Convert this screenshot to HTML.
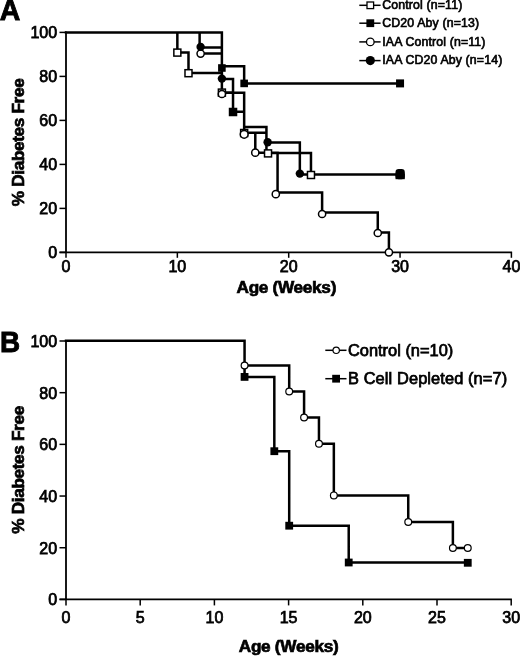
<!DOCTYPE html>
<html><head><meta charset="utf-8"><style>
html,body{margin:0;padding:0;background:#fff;}
body{width:520px;height:656px;overflow:hidden;}
svg{display:block;will-change:transform;}
svg text{font-family:"Liberation Sans", sans-serif;fill:#000;}
</style></head><body>
<svg width="520" height="656" viewBox="0 0 520 656">
<rect width="520" height="656" fill="#fff"/>
<text transform="translate(-0.3,19.9) scale(0.95,1)" font-size="30" font-weight="bold" stroke="#000" stroke-width="0.9">A</text>
<line x1="66.00" y1="31.50" x2="66.00" y2="252.40" stroke="#000" stroke-width="1.8"/>
<line x1="59.50" y1="252.40" x2="512.10" y2="252.40" stroke="#000" stroke-width="1.8"/>
<line x1="59.50" y1="252.40" x2="66.00" y2="252.40" stroke="#000" stroke-width="1.5"/>
<text x="57.10" y="258.30" font-size="16" font-weight="normal" text-anchor="end" stroke="#000" stroke-width="0.75" >0</text>
<line x1="59.50" y1="208.40" x2="66.00" y2="208.40" stroke="#000" stroke-width="1.5"/>
<text x="57.10" y="214.30" font-size="16" font-weight="normal" text-anchor="end" stroke="#000" stroke-width="0.75" >20</text>
<line x1="59.50" y1="164.40" x2="66.00" y2="164.40" stroke="#000" stroke-width="1.5"/>
<text x="57.10" y="170.30" font-size="16" font-weight="normal" text-anchor="end" stroke="#000" stroke-width="0.75" >40</text>
<line x1="59.50" y1="120.40" x2="66.00" y2="120.40" stroke="#000" stroke-width="1.5"/>
<text x="57.10" y="126.30" font-size="16" font-weight="normal" text-anchor="end" stroke="#000" stroke-width="0.75" >60</text>
<line x1="59.50" y1="76.40" x2="66.00" y2="76.40" stroke="#000" stroke-width="1.5"/>
<text x="57.10" y="82.30" font-size="16" font-weight="normal" text-anchor="end" stroke="#000" stroke-width="0.75" >80</text>
<line x1="59.50" y1="32.40" x2="66.00" y2="32.40" stroke="#000" stroke-width="1.5"/>
<text x="57.10" y="38.30" font-size="16" font-weight="normal" text-anchor="end" stroke="#000" stroke-width="0.75" >100</text>
<line x1="66.00" y1="252.40" x2="66.00" y2="257.80" stroke="#000" stroke-width="1.5"/>
<text x="66.00" y="272.20" font-size="16" font-weight="normal" text-anchor="middle" stroke="#000" stroke-width="0.75" >0</text>
<line x1="177.35" y1="252.40" x2="177.35" y2="257.80" stroke="#000" stroke-width="1.5"/>
<text x="177.35" y="272.20" font-size="16" font-weight="normal" text-anchor="middle" stroke="#000" stroke-width="0.75" >10</text>
<line x1="288.70" y1="252.40" x2="288.70" y2="257.80" stroke="#000" stroke-width="1.5"/>
<text x="288.70" y="272.20" font-size="16" font-weight="normal" text-anchor="middle" stroke="#000" stroke-width="0.75" >20</text>
<line x1="400.05" y1="252.40" x2="400.05" y2="257.80" stroke="#000" stroke-width="1.5"/>
<text x="400.05" y="272.20" font-size="16" font-weight="normal" text-anchor="middle" stroke="#000" stroke-width="0.75" >30</text>
<line x1="511.40" y1="252.40" x2="511.40" y2="257.80" stroke="#000" stroke-width="1.5"/>
<text x="511.40" y="272.20" font-size="16" font-weight="normal" text-anchor="middle" stroke="#000" stroke-width="0.75" >40</text>
<text x="286.30" y="293.00" font-size="17.2" font-weight="bold" text-anchor="middle" stroke="#000" stroke-width="0.7" letter-spacing="-0.3">Age (Weeks)</text>
<text transform="translate(23.9,142.4) rotate(-90)" x="0" y="0" font-size="17.2" font-weight="bold" text-anchor="middle" letter-spacing="-0.35" stroke="#000" stroke-width="0.7">% Diabetes Free</text>
<path d="M66.00,32.40 L221.89,32.40 L221.89,66.20 L244.16,66.20 L244.16,83.40 L400.05,83.40 L400.05,83.40 M66.00,32.40 L177.35,32.40 L177.35,52.50 L188.49,52.50 L188.49,73.10 L221.89,73.10 L221.89,92.50 L233.03,92.50 L233.03,111.80 L244.16,111.80 L244.16,132.80 L266.43,132.80 L266.43,153.00 L310.97,153.00 L310.97,174.50 L400.05,174.50 L400.05,174.50 M66.00,32.40 L199.62,32.40 L199.62,53.50 L221.89,53.50 L221.89,92.80 L244.16,92.80 L244.16,132.80 L255.29,132.80 L255.29,152.80 L277.56,152.80 L277.56,192.60 L322.11,192.60 L322.11,212.60 L377.78,212.60 L377.78,232.60 L388.92,232.60 L388.92,252.40 M66.00,32.40 L199.62,32.40 L199.62,47.60 L221.89,47.60 L221.89,79.00 L233.03,79.00 L233.03,111.80 L244.16,111.80 L244.16,127.00 L266.43,127.00 L266.43,142.40 L299.84,142.40 L299.84,174.40 L400.05,174.40 L400.05,174.40" fill="none" stroke="#000" stroke-width="2.5" stroke-linejoin="miter" stroke-linecap="square"/>
<rect x="173.85" y="49.10" width="7.0" height="7.0" fill="#fff" stroke="#000" stroke-width="1.5"/>
<rect x="184.99" y="69.70" width="7.0" height="7.0" fill="#fff" stroke="#000" stroke-width="1.5"/>
<rect x="218.39" y="89.10" width="7.0" height="7.0" fill="#fff" stroke="#000" stroke-width="1.5"/>
<circle cx="200.62" cy="53.60" r="3.6" fill="#fff" stroke="#000" stroke-width="1.5"/>
<circle cx="200.62" cy="46.90" r="4.2" fill="#000"/>
<rect x="218.09" y="64.20" width="7.6" height="7.6" fill="#000"/>
<circle cx="221.89" cy="78.60" r="4.2" fill="#000"/>
<circle cx="221.89" cy="94.00" r="3.6" fill="#fff" stroke="#000" stroke-width="1.5"/>
<rect x="229.53" y="108.50" width="7.0" height="7.0" fill="#fff" stroke="#000" stroke-width="1.5"/>
<circle cx="233.03" cy="112.00" r="4.0" fill="#000"/>
<rect x="240.36" y="79.60" width="7.6" height="7.6" fill="#000"/>
<rect x="240.66" y="129.50" width="7.0" height="7.0" fill="#fff" stroke="#000" stroke-width="1.5"/>
<circle cx="244.16" cy="134.30" r="3.9" fill="#fff" stroke="#000" stroke-width="1.5"/>
<circle cx="255.29" cy="152.70" r="3.6" fill="#fff" stroke="#000" stroke-width="1.5"/>
<circle cx="267.63" cy="142.30" r="4.2" fill="#000"/>
<rect x="264.53" y="149.90" width="7.0" height="7.0" fill="#fff" stroke="#000" stroke-width="1.5"/>
<circle cx="299.84" cy="173.60" r="4.2" fill="#000"/>
<rect x="307.47" y="171.50" width="7.0" height="7.0" fill="#fff" stroke="#000" stroke-width="1.5"/>
<circle cx="275.80" cy="194.20" r="3.6" fill="#fff" stroke="#000" stroke-width="1.5"/>
<circle cx="322.11" cy="214.00" r="3.6" fill="#fff" stroke="#000" stroke-width="1.5"/>
<circle cx="377.78" cy="233.00" r="3.6" fill="#fff" stroke="#000" stroke-width="1.5"/>
<circle cx="388.92" cy="252.30" r="3.6" fill="#fff" stroke="#000" stroke-width="1.5"/>
<rect x="395.5" y="169.1" width="9.3" height="10.1" rx="3.2" fill="#000"/><rect x="395.5" y="173.5" width="9.3" height="5.7" fill="#000"/>
<rect x="396.05" y="79.40" width="8.0" height="8.0" fill="#000"/>
<line x1="359.30" y1="5.30" x2="380.60" y2="5.30" stroke="#000" stroke-width="1.5"/>
<rect x="367.00" y="2.00" width="6.6" height="6.6" fill="#fff" stroke="#000" stroke-width="1.3"/>
<text x="382.30" y="9.10" font-size="12.3" font-weight="normal" text-anchor="start" stroke="#000" stroke-width="0.65" letter-spacing="0.15">Control (n=11)</text>
<line x1="359.30" y1="23.20" x2="380.60" y2="23.20" stroke="#000" stroke-width="1.5"/>
<rect x="366.40" y="19.30" width="7.8" height="7.8" fill="#000"/>
<text x="382.30" y="27.00" font-size="12.3" font-weight="normal" text-anchor="start" stroke="#000" stroke-width="0.65" letter-spacing="0.15">CD20 Aby (n=13)</text>
<line x1="359.30" y1="41.90" x2="380.60" y2="41.90" stroke="#000" stroke-width="1.5"/>
<circle cx="370.30" cy="41.90" r="3.8" fill="#fff" stroke="#000" stroke-width="1.3"/>
<text x="382.30" y="45.70" font-size="12.3" font-weight="normal" text-anchor="start" stroke="#000" stroke-width="0.65" letter-spacing="0.15">IAA Control (n=11)</text>
<line x1="359.30" y1="60.60" x2="380.60" y2="60.60" stroke="#000" stroke-width="1.5"/>
<circle cx="370.30" cy="60.60" r="4.6" fill="#000"/>
<text x="382.30" y="64.40" font-size="12.3" font-weight="normal" text-anchor="start" stroke="#000" stroke-width="0.65" letter-spacing="0.15">IAA CD20 Aby (n=14)</text>
<text transform="translate(-0.1,352.1) scale(0.93,1)" font-size="30" font-weight="bold" stroke="#000" stroke-width="0.9">B</text>
<line x1="66.00" y1="340.10" x2="66.00" y2="599.40" stroke="#000" stroke-width="1.8"/>
<line x1="59.50" y1="599.40" x2="511.90" y2="599.40" stroke="#000" stroke-width="1.8"/>
<line x1="59.50" y1="599.40" x2="66.00" y2="599.40" stroke="#000" stroke-width="1.5"/>
<text x="57.10" y="605.30" font-size="16" font-weight="normal" text-anchor="end" stroke="#000" stroke-width="0.75" >0</text>
<line x1="59.50" y1="547.72" x2="66.00" y2="547.72" stroke="#000" stroke-width="1.5"/>
<text x="57.10" y="553.62" font-size="16" font-weight="normal" text-anchor="end" stroke="#000" stroke-width="0.75" >20</text>
<line x1="59.50" y1="496.04" x2="66.00" y2="496.04" stroke="#000" stroke-width="1.5"/>
<text x="57.10" y="501.94" font-size="16" font-weight="normal" text-anchor="end" stroke="#000" stroke-width="0.75" >40</text>
<line x1="59.50" y1="444.36" x2="66.00" y2="444.36" stroke="#000" stroke-width="1.5"/>
<text x="57.10" y="450.26" font-size="16" font-weight="normal" text-anchor="end" stroke="#000" stroke-width="0.75" >60</text>
<line x1="59.50" y1="392.68" x2="66.00" y2="392.68" stroke="#000" stroke-width="1.5"/>
<text x="57.10" y="398.58" font-size="16" font-weight="normal" text-anchor="end" stroke="#000" stroke-width="0.75" >80</text>
<line x1="59.50" y1="341.00" x2="66.00" y2="341.00" stroke="#000" stroke-width="1.5"/>
<text x="57.10" y="346.90" font-size="16" font-weight="normal" text-anchor="end" stroke="#000" stroke-width="0.75" >100</text>
<line x1="66.00" y1="599.40" x2="66.00" y2="605.40" stroke="#000" stroke-width="1.5"/>
<text x="66.00" y="622.50" font-size="16" font-weight="normal" text-anchor="middle" stroke="#000" stroke-width="0.75" >0</text>
<line x1="140.20" y1="599.40" x2="140.20" y2="605.40" stroke="#000" stroke-width="1.5"/>
<text x="140.20" y="622.50" font-size="16" font-weight="normal" text-anchor="middle" stroke="#000" stroke-width="0.75" >5</text>
<line x1="214.40" y1="599.40" x2="214.40" y2="605.40" stroke="#000" stroke-width="1.5"/>
<text x="214.40" y="622.50" font-size="16" font-weight="normal" text-anchor="middle" stroke="#000" stroke-width="0.75" >10</text>
<line x1="288.60" y1="599.40" x2="288.60" y2="605.40" stroke="#000" stroke-width="1.5"/>
<text x="288.60" y="622.50" font-size="16" font-weight="normal" text-anchor="middle" stroke="#000" stroke-width="0.75" >15</text>
<line x1="362.80" y1="599.40" x2="362.80" y2="605.40" stroke="#000" stroke-width="1.5"/>
<text x="362.80" y="622.50" font-size="16" font-weight="normal" text-anchor="middle" stroke="#000" stroke-width="0.75" >20</text>
<line x1="437.00" y1="599.40" x2="437.00" y2="605.40" stroke="#000" stroke-width="1.5"/>
<text x="437.00" y="622.50" font-size="16" font-weight="normal" text-anchor="middle" stroke="#000" stroke-width="0.75" >25</text>
<line x1="511.20" y1="599.40" x2="511.20" y2="605.40" stroke="#000" stroke-width="1.5"/>
<text x="511.20" y="622.50" font-size="16" font-weight="normal" text-anchor="middle" stroke="#000" stroke-width="0.75" >30</text>
<text x="288.60" y="652.00" font-size="17.2" font-weight="bold" text-anchor="middle" stroke="#000" stroke-width="0.7" letter-spacing="-0.3">Age (Weeks)</text>
<text transform="translate(23.9,469.9) rotate(-90)" x="0" y="0" font-size="17.2" font-weight="bold" text-anchor="middle" letter-spacing="-0.35" stroke="#000" stroke-width="0.7">% Diabetes Free</text>
<path d="M66.00,340.80 L244.56,340.80 L244.56,365.40 L289.20,365.40 L289.20,391.50 L304.08,391.50 L304.08,417.50 L318.96,417.50 L318.96,443.70 L333.84,443.70 L333.84,495.40 L408.24,495.40 L408.24,522.00 L452.88,522.00 L452.88,548.00 L467.76,548.00 L467.76,548.00 M66.00,340.80 L244.56,340.80 L244.56,376.90 L274.32,376.90 L274.32,451.20 L289.20,451.20 L289.20,525.70 L348.72,525.70 L348.72,562.50 L467.76,562.50 L467.76,562.50" fill="none" stroke="#000" stroke-width="2.5" stroke-linejoin="miter" stroke-linecap="square"/>
<circle cx="244.56" cy="365.50" r="3.4" fill="#fff" stroke="#000" stroke-width="1.2"/>
<circle cx="289.20" cy="391.50" r="3.4" fill="#fff" stroke="#000" stroke-width="1.2"/>
<circle cx="304.08" cy="417.50" r="3.4" fill="#fff" stroke="#000" stroke-width="1.2"/>
<circle cx="318.96" cy="443.70" r="3.4" fill="#fff" stroke="#000" stroke-width="1.2"/>
<circle cx="333.84" cy="495.40" r="3.4" fill="#fff" stroke="#000" stroke-width="1.2"/>
<circle cx="408.24" cy="522.00" r="3.4" fill="#fff" stroke="#000" stroke-width="1.2"/>
<circle cx="452.88" cy="548.00" r="3.4" fill="#fff" stroke="#000" stroke-width="1.2"/>
<circle cx="467.76" cy="548.00" r="3.4" fill="#fff" stroke="#000" stroke-width="1.2"/>
<rect x="240.66" y="373.00" width="7.8" height="7.8" fill="#000"/>
<rect x="270.42" y="447.30" width="7.8" height="7.8" fill="#000"/>
<rect x="285.30" y="521.80" width="7.8" height="7.8" fill="#000"/>
<rect x="344.82" y="558.60" width="7.8" height="7.8" fill="#000"/>
<rect x="463.86" y="558.90" width="7.8" height="7.8" fill="#000"/>
<line x1="325.30" y1="350.30" x2="346.50" y2="350.30" stroke="#000" stroke-width="1.5"/>
<circle cx="336.20" cy="350.30" r="3.2" fill="#fff" stroke="#000" stroke-width="1.2"/>
<text x="348.00" y="355.70" font-size="16.4" font-weight="normal" text-anchor="start" stroke="#000" stroke-width="0.75" >Control (n=10)</text>
<line x1="325.30" y1="378.70" x2="346.50" y2="378.70" stroke="#000" stroke-width="1.5"/>
<rect x="332.20" y="374.80" width="7.8" height="7.8" fill="#000"/>
<text x="348.00" y="384.10" font-size="16.4" font-weight="normal" text-anchor="start" stroke="#000" stroke-width="0.75" letter-spacing="0.1">B Cell Depleted (n=7)</text>
</svg>
</body></html>
